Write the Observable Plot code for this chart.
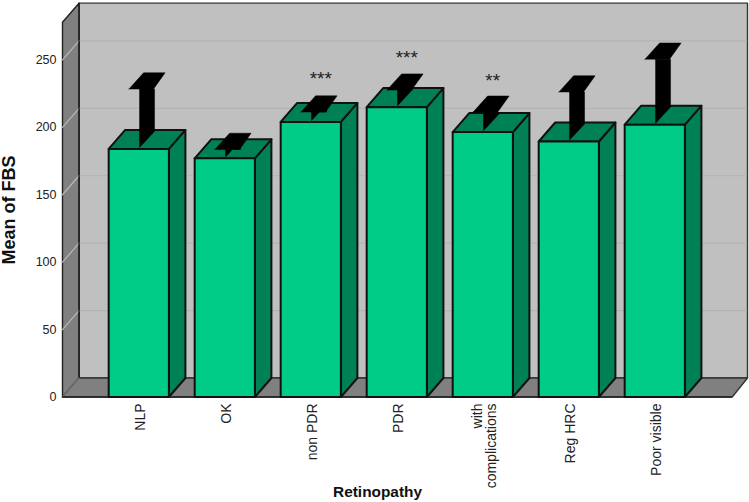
<!DOCTYPE html>
<html>
<head>
<meta charset="utf-8">
<script src="https://cdn.jsdelivr.net/npm/d3@7"></script>
<script src="https://cdn.jsdelivr.net/npm/@observablehq/plot@0.6"></script>
<style>html,body{margin:0;padding:0;background:#fff}svg{display:block}</style>
</head>
<body>
<div id="chart"></div>
<script>
const categories = ["NLP", "OK", "non PDR", "PDR", "with\ncomplications", "Reg HRC", "Poor visible"];
const means = [184, 177, 204, 215, 196.5, 189.5, 202];
const errors = [43.4, 5.6, 6.3, 11.6, 13.7, 35.7, 47.5];
const stars = ["", "", "***", "***", "**", "", ""];
const yTicks = [0, 50, 100, 150, 200, 250];

// 3-D projection constants, in scale units
const depthX = 0.192, depthY = 14.1;
const halfBar = 0.35;
const xMin = -0.887, xFloorEnd = 6.9, xMax = 7.078, yMax = 292.6, wallTop = 278;

const colors = {wall: "#c0c0c0", side: "#808080", front: "#00cc88", shade: "#008055", grid: "#b3b3b3", gridSide: "#b8b8b8"};

const polys = [];
const poly = (pts, fill, stroke = "#111", sw = 2) => {
  polys.push({pts: [...pts, pts[0]], fill, stroke, sw});
};

// walls and floor
poly([[xMin + depthX, depthY], [xMax, depthY], [xMax, depthY + wallTop], [xMin + depthX, depthY + wallTop]], colors.wall, "#333", 1.4);
poly([[xMin, 0], [xMin + depthX, depthY], [xMin + depthX, depthY + wallTop], [xMin, wallTop]], colors.side, "#222", 1.4);
poly([[xMin, 0], [xFloorEnd, 0], [xMax, depthY], [xMin + depthX, depthY]], colors.side, "#333", 1.4);

// bars and error arrows
categories.forEach((c, i) => {
  const v = means[i], l = i - halfBar, r = i + halfBar;
  poly([[r, 0], [r + depthX, depthY], [r + depthX, v + depthY], [r, v]], colors.shade);
  poly([[l, v], [r, v], [r + depthX, v + depthY], [l + depthX, v + depthY]], colors.shade);
  poly([[l, 0], [r, 0], [r, v], [l, v]], colors.front);
});
categories.forEach((c, i) => {
  const cx = i + depthX / 2, base = means[i] + depthY / 2, top = base + errors[i];
  const hw = 0.087, rise = 6;
  poly([[cx - hw, top - rise], [cx + hw, top - rise], [cx + hw, base + rise], [cx - hw, base - rise]], "#000", "#000", 0.5);
  poly([[cx - 0.21, top - rise], [cx + 0.076, top - rise], [cx + 0.21, top + rise], [cx - 0.04, top + rise]], "#000", "#000", 0.5);
});

const gridRows = yTicks.slice(1);
const starRows = categories.map((c, i) => ({i, s: stars[i], y: means[i] + depthY / 2 + errors[i]})).filter(d => d.s);
const starLift = {2: 25, 3: 24, 4: 23};
const drawPoly = p => Plot.line(p.pts, {x: d => d[0], y: d => d[1], fill: p.fill, stroke: p.stroke, strokeWidth: p.sw, curve: "linear"});

const plot = Plot.plot({
  width: 749,
  height: 502,
  marginLeft: 62,
  marginRight: 2,
  marginTop: 2,
  marginBottom: 105.5,
  style: {fontFamily: "'Liberation Sans', Arial, sans-serif", background: "#fff", color: "#111"},
  x: {domain: [xMin, xMax], axis: null},
  y: {domain: [0, yMax], axis: null},
  marks: [
    ...polys.slice(0, 3).map(drawPoly),
    Plot.ruleY(gridRows, {x1: xMin + depthX, x2: xMax, y: d => d + depthY, stroke: colors.grid, strokeWidth: 1.2}),
    ...[0, ...gridRows].map(t => Plot.line([[xMin, t], [xMin + depthX, t + depthY]], {x: d => d[0], y: d => d[1], stroke: colors.gridSide, strokeWidth: 1.2, strokeOpacity: t === 0 ? 0.5 : 1})),
    Plot.ruleX([xMin + depthX], {y1: depthY, y2: depthY + wallTop, stroke: "#222", strokeWidth: 1.4}),
    Plot.ruleY([0], {x1: xMin, x2: xFloorEnd, stroke: "#222", strokeWidth: 1.6}),
    ...polys.slice(3).map(drawPoly),
    ...starRows.map(d => Plot.text([d], {x: e => e.i + depthX / 2 + 0.02, y: "y", text: "s", dy: -starLift[d.i], fontSize: 19, fill: "#222"})),
    Plot.axisY({ticks: yTicks, tickSize: 0, tickPadding: 6, label: null, fontSize: 12.5, fill: "#222"}),
    Plot.text(categories, {x: (d, i) => i, y: () => 0, text: d => d, dx: 2, dy: 6.5, rotate: -90, textAnchor: "end", lineAnchor: "middle", lineHeight: 0.95, fontSize: 14, fill: "#222"}),
    Plot.text(["Retinopathy"], {x: () => 2.776, y: () => 0, text: d => d, dy: 95, fontSize: 15.4, fontWeight: "bold", fill: "#111"}),
    Plot.text(["Mean of FBS"], {x: () => xMin, y: () => 138.7, text: d => d, dx: -53, rotate: -90, fontSize: 18, fontWeight: "bold", fill: "#111"})
  ]
});
document.getElementById("chart").append(plot);
</script>
</body>
</html>
